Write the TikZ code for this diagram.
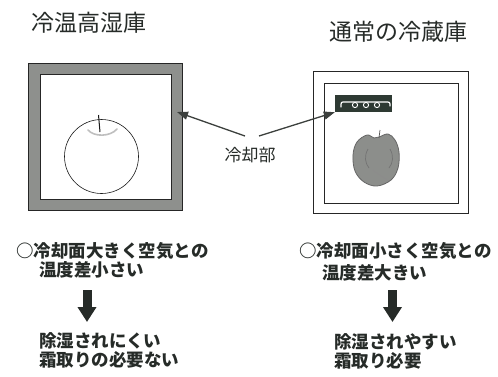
\documentclass[tikz,border=0pt]{standalone}
\usepackage{fontspec}
\newfontfamily\jp{Noto Sans CJK JP}
\usetikzlibrary{arrows.meta}
\definecolor{ink}{HTML}{262B28}
\definecolor{framegray}{HTML}{8E908D}
\definecolor{coolunit}{HTML}{2E3A33}
\definecolor{applegray}{HTML}{8C8E8B}
\begin{document}
\begin{tikzpicture}[x=1pt,y=-1pt,
  title/.style={font=\jp\fontsize{23}{23}\selectfont, text=ink, inner sep=0pt},
  note/.style={font=\jp\bfseries\fontsize{17.5}{17.5}\selectfont, text=ink, inner sep=0pt, anchor=west},
  lbl/.style={font=\jp\fontsize{17}{17}\selectfont, text=ink, inner sep=0pt},
  pointer/.style={draw=ink!90, line width=1.3pt, -{Triangle[length=11pt,width=8pt]}},
  bigdown/.style={draw=ink, line width=9pt, -{Triangle[length=15pt,width=18pt]}},
  wall/.style={draw=black!85, line width=0.9pt}]
\useasboundingbox (0,0) rectangle (498,376);

% titles
\node[title] (t1) at (88.5,23) {冷温高湿庫};
\node[title] (t2) at (398.5,32) {通常の冷蔵庫};

% cold-wall storage: thick cooled frame
\node[wall, fill=framegray, minimum width=154, minimum height=147, inner sep=0pt] (lbox) at (105,136.5) {};
\node[wall, fill=white, minimum width=131, minimum height=125, inner sep=0pt] (lin) at (105.5,136.5) {};
% plain apple
\node[draw=black!90, line width=0.6pt, circle, minimum size=74, inner sep=0pt] (apple1) at (101.5,156.5) {};
\draw[black!25, line width=1.6pt, line cap=round] (88,130) .. controls (94,137) and (110,137) .. (117,129);
\draw[black!90, line width=1pt] (98.5,115) -- (100,132);

% ordinary fridge
\node[wall, minimum width=155, minimum height=142, inner sep=0pt] (rbox) at (390.5,142) {};
\node[wall, minimum width=134, minimum height=120, inner sep=0pt] (rin) at (391,143) {};
% cooling unit
\node[fill=coolunit, minimum width=57, minimum height=17, inner sep=0pt] (cu) at (363.5,103.5) {};
\draw[white, line width=1.2pt, line cap=round] (341,107) .. controls (341,102) .. (345,102) -- (385,102) .. controls (390,102) .. (390,106);
\foreach \cx in {355,366,377}
  \draw[white, line width=0.9pt] (\cx,105) circle (2.6);
% wilted apple
\draw[black!60, line width=0.8pt, fill=applegray]
  plot[smooth cycle, tension=0.6] coordinates {(379,137) (388,134) (395,140) (399,152) (398,168) (391,180) (377,186) (364,182) (355,171) (353,155) (357,142) (367,135) (374,138)};
\draw[black!65, line width=0.7pt] (380,130) -- (379,138);
\draw[black!55, line width=0.7pt] (368,149) .. controls (364,156) and (365,163) .. (369,168);
\draw[black!55, line width=0.7pt] (390,149) .. controls (394,156) and (393,163) .. (389,168);
\draw[black!45, line width=0.6pt] (373,170) .. controls (378,175) and (383,176) .. (388,181);

% label and pointers
\node[lbl] (lab) at (250,155) {冷却部};
\coordinate (p1) at (245,136);
\coordinate (p2) at (259,136);
\coordinate (tipl) at (177,112);
\draw[pointer] (p1) -- (tipl);
\draw[pointer] (p2) -- (cu.south west);

% left notes
\node[note] (l1) at (16,251) {○冷却面大きく空気との};
\node[note] (l2) at (39,270) {温度差小さい};
\node[note] (l3) at (39,341) {除湿されにくい};
\node[note] (l4) at (39,360) {霜取りの必要ない};
\coordinate (la1) at (87,290);
\coordinate (la2) at (87,322);
\draw[bigdown] (la1) -- (la2);

% right notes
\node[note] (r1) at (299,251) {○冷却面小さく空気との};
\node[note] (r2) at (322,273) {温度差大きい};
\node[note] (r3) at (334,342) {除湿されやすい};
\node[note] (r4) at (334,361) {霜取り必要};
\coordinate (ra1) at (392.5,290);
\coordinate (ra2) at (392.5,322);
\draw[bigdown] (ra1) -- (ra2);
\end{tikzpicture}
\end{document}
